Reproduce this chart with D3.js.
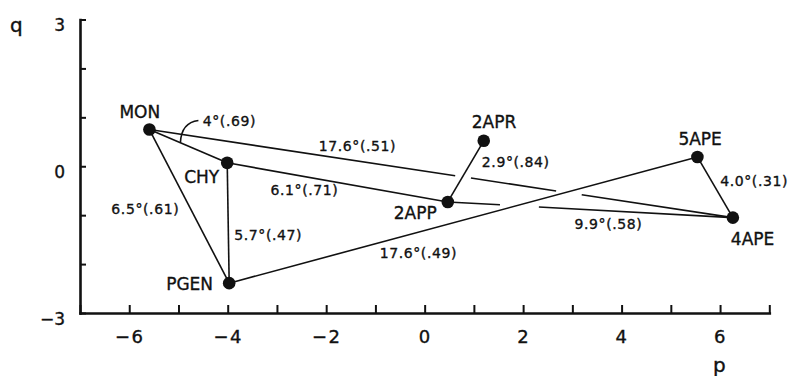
<!DOCTYPE html>
<html>
<head>
<meta charset="utf-8">
<script src="https://cdn.jsdelivr.net/npm/d3@7"></script>
<style>
  body { margin: 0; background: #fff; }
  text { font-family: "DejaVu Sans", sans-serif; fill: #111; stroke: #111; stroke-width: 0.35px; }
</style>
</head>
<body>
<svg id="chart" width="790" height="376"></svg>
<script>
// data
const names = ["MON", "CHY", "PGEN", "2APP", "2APR", "5APE", "4APE"];
const pValues = [-5.59, -4.01, -3.97, 0.47, 1.2, 5.54, 6.26];
const qValues = [0.75, 0.07, -2.39, -0.73, 0.52, 0.19, -1.05];

const edgeFrom = ["MON", "MON", "MON", "CHY", "CHY", "2APP", "2APP", "PGEN", "5APE"];
const edgeTo = ["CHY", "4APE", "PGEN", "2APP", "PGEN", "2APR", "4APE", "5APE", "4APE"];
const edgeLabels = ["", "17.6°(.51)", "6.5°(.61)", "6.1°(.71)", "5.7°(.47)", "2.9°(.84)", "9.9°(.58)", "17.6°(.49)", "4.0°(.31)"];
const angleLabel = "4°(.69)";

const xTicks = d3.range(-7, 8);
const xTickLabels = [-6, -4, -2, 0, 2, 4, 6];
const yTicks = d3.range(-3, 4);
const yTickLabels = [-3, 0, 3];

// layout only (offsets in px, t = fraction along the edge)
const labelPlace = {
    "17.6°(.51)": {t: 0.36, dx: -2, dy: -10},
    "6.5°(.61)": {t: 0.5, dx: -44, dy: 8},
    "6.1°(.71)": {t: 0.35, dx: 0, dy: 18},
    "5.7°(.47)": {t: 0.5, dx: 40, dy: 17},
    "2.9°(.84)": {t: 0.5, dx: 50, dy: -4},
    "9.9°(.58)": {t: 0.56, dx: 1, dy: 18},
    "17.6°(.49)": {t: 0.404, dx: 0, dy: 26},
    "4.0°(.31)": {t: 0.5, dx: 39, dy: -1}
};
const nameOffset = {
    "MON": [-30, -12], "CHY": [-43, 20], "PGEN": [-63, 7], "2APP": [-54, 17],
    "2APR": [-12, -13], "5APE": [-19, -12], "4APE": [-2, 27]
};
// hidden-line breaks, as p ranges
const edgeBreaks = {
    "MON-4APE": [[0.62, 0.94], [2.67, 3.19]],
    "2APP-4APE": [[1.53, 2.32]]
};

const svg = d3.select("#chart");
const x = d3.scaleLinear().domain([-7, 7]).range([80, 769.3]);
const y = d3.scaleLinear().domain([-3, 3]).range([313, 19.5]);

const pts = {};
names.forEach((n, i) => pts[n] = {p: pValues[i], q: qValues[i]});

// axes
const xAxis = d3.axisBottom(x)
    .tickValues(xTicks)
    .tickSizeInner(-8).tickSizeOuter(0).tickPadding(17)
    .tickFormat(d => xTickLabels.includes(d) ? d3.format("d")(d) : "");
const gx = svg.append("g").attr("transform", `translate(0,${y(-3)})`).call(xAxis);

const yAxis = d3.axisLeft(y)
    .tickValues(yTicks)
    .tickSizeInner(-6).tickSizeOuter(0).tickPadding(15)
    .tickFormat(d => yTickLabels.includes(d) ? d3.format("d")(d) : "");
const gy = svg.append("g").attr("transform", `translate(${x(-7)},0)`).call(yAxis);

[gx, gy].forEach(g => {
    g.select(".domain").attr("stroke", "#111").attr("stroke-width", 2.6).attr("stroke-linecap", "square");
    g.selectAll(".tick line").attr("stroke", "#111").attr("stroke-width", 2);
    g.selectAll(".tick text").attr("font-family", "DejaVu Sans").attr("font-size", 18)
        .attr("fill", "#111");
});
gx.selectAll(".tick text").attr("letter-spacing", 1.5);
gy.selectAll(".tick text").attr("font-size", 17).attr("dy", "0.65em");

svg.append("text").attr("x", 10).attr("y", 32).attr("font-size", 20).text("q");
svg.append("text").attr("x", 713).attr("y", 372).attr("font-size", 20).text("p");

// edges
const edges = edgeFrom.map((f, i) => ({from: f, to: edgeTo[i], label: edgeLabels[i]}));

edges.forEach(e => {
    const a = pts[e.from], b = pts[e.to];
    const breaks = edgeBreaks[e.from + "-" + e.to] || [];
    let cuts = [[0, 1]];
    breaks.forEach(br => {
        const t0 = (br[0] - a.p) / (b.p - a.p), t1 = (br[1] - a.p) / (b.p - a.p);
        const next = [];
        cuts.forEach(c => {
            if (t1 <= c[0] || t0 >= c[1]) { next.push(c); return; }
            if (t0 > c[0]) next.push([c[0], t0]);
            if (t1 < c[1]) next.push([t1, c[1]]);
        });
        cuts = next;
    });
    cuts.forEach(c => {
        svg.append("line")
            .attr("x1", x(a.p + (b.p - a.p) * c[0])).attr("y1", y(a.q + (b.q - a.q) * c[0]))
            .attr("x2", x(a.p + (b.p - a.p) * c[1])).attr("y2", y(a.q + (b.q - a.q) * c[1]))
            .attr("stroke", "#111").attr("stroke-width", 1.6);
    });
    if (e.label) {
        const pl = labelPlace[e.label];
        const px = x(a.p + (b.p - a.p) * pl.t), py = y(a.q + (b.q - a.q) * pl.t);
        svg.append("text")
            .attr("x", px + pl.dx).attr("y", py + pl.dy)
            .attr("text-anchor", "middle").attr("font-size", 14).attr("letter-spacing", 0.6)
            .text(e.label);
    }
});

// angle note at MON
const mx = x(pts.MON.p), my = y(pts.MON.q);
svg.append("path")
    .attr("d", `M${mx + 49},${my - 9} Q${mx + 32},${my - 7} ${mx + 31},${my + 13}`)
    .attr("fill", "none").attr("stroke", "#111").attr("stroke-width", 1.6);
svg.append("text").attr("x", mx + 80).attr("y", my - 4)
    .attr("text-anchor", "middle").attr("font-size", 14).attr("letter-spacing", 0.6)
    .text(angleLabel);

// points
svg.selectAll("circle.pt").data(names).enter().append("circle")
    .attr("class", "pt")
    .attr("cx", d => x(pts[d].p)).attr("cy", d => y(pts[d].q))
    .attr("r", 6.3).attr("fill", "#111");

svg.selectAll("text.name").data(names).enter().append("text")
    .attr("class", "name")
    .attr("x", d => x(pts[d].p) + nameOffset[d][0])
    .attr("y", d => y(pts[d].q) + nameOffset[d][1])
    .attr("font-size", 17)
    .text(d => d);
</script>
</body>
</html>
